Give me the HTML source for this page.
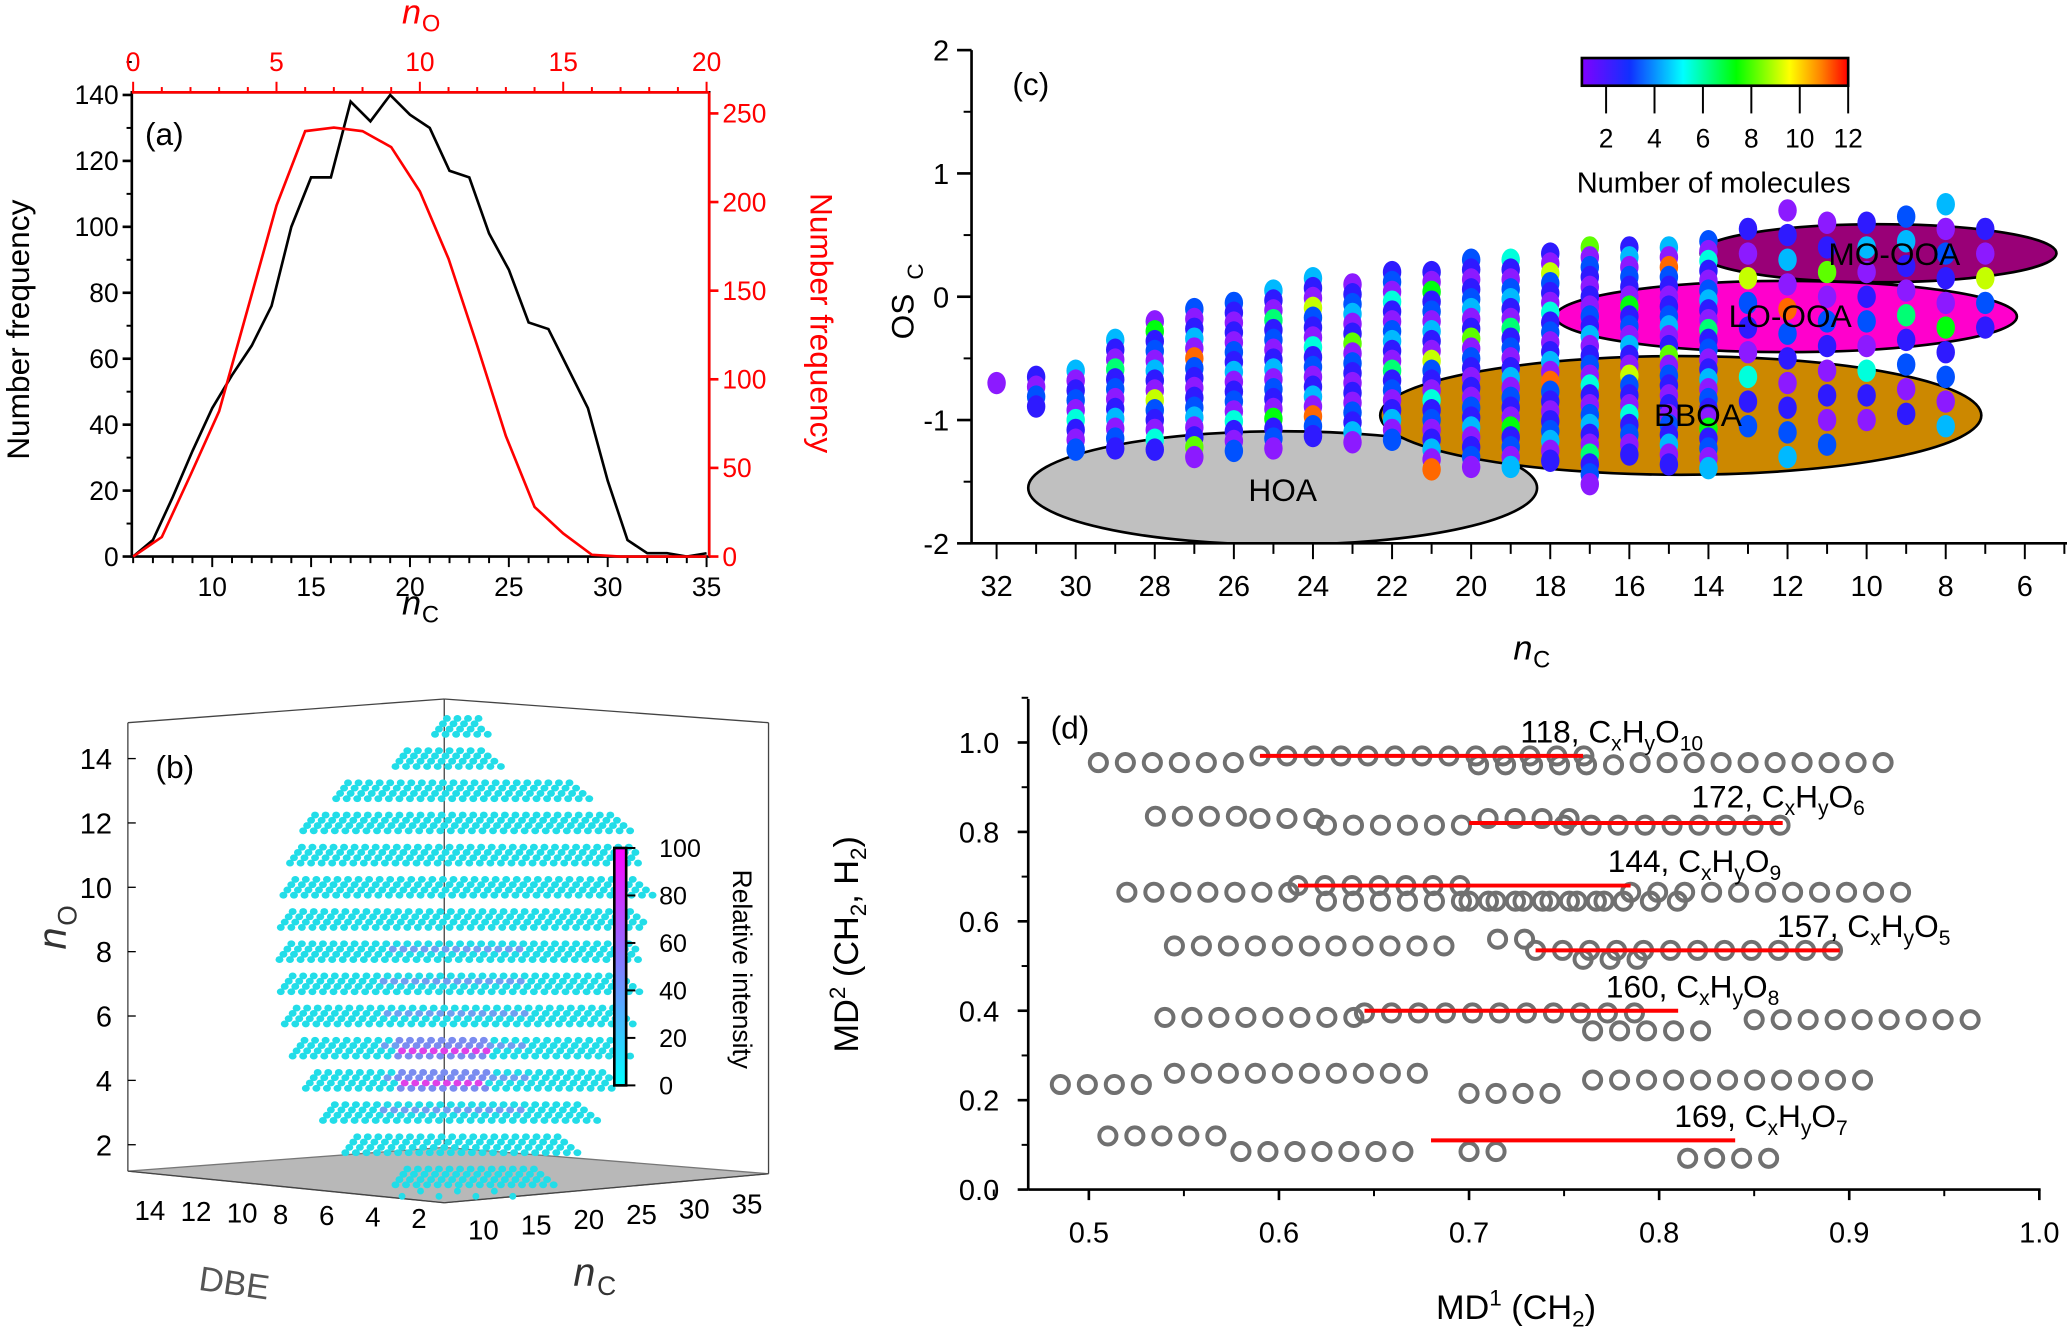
<!DOCTYPE html>
<html><head><meta charset="utf-8"><style>
html,body{margin:0;padding:0;background:#fff;}
svg{display:block;font-family:"Liberation Sans",Arial,sans-serif;}
</style></head><body>
<svg id="fig" width="2067" height="1332" viewBox="0 0 1568 1010" preserveAspectRatio="none" xmlns="http://www.w3.org/2000/svg">
<defs>
<linearGradient id="rainbow" x1="0" x2="1" y1="0" y2="0">
<stop offset="0" stop-color="#8000ff"/><stop offset="0.18" stop-color="#1030ff"/><stop offset="0.38" stop-color="#00ffff"/><stop offset="0.58" stop-color="#00ff00"/><stop offset="0.78" stop-color="#ffff00"/><stop offset="0.9" stop-color="#ff8000"/><stop offset="1" stop-color="#ff0000"/>
</linearGradient>
<linearGradient id="cyanmag" x1="0" x2="0" y1="1" y2="0">
<stop offset="0" stop-color="#00ffff"/><stop offset="1" stop-color="#ff00ff"/>
</linearGradient>
<clipPath id="clipC"><rect x="737" y="20" width="831" height="392"/></clipPath>
</defs>
<g id="pa"></g>
<g id="pb"></g>
<g id="pc"></g>
<g id="pd"></g>
</svg>
<script>
// ---- Panel (a) data ----
const aNc = [6,7,8,9,10,11,12,13,14,15,16,17,18,19,20,21,22,23,24,25,26,27,28,29,30,31,32,33,34,35];
const aNcFreq = [0,5,18,32,45,55,64,76,100,115,115,138,132,140,134,130,117,115,98,87,71,69,57,45,23,5,1,1,0,1];
const aNo = [0,1,2,3,4,5,6,7,8,9,10,11,12,13,14,15,16,17,18,19,20];
const aNoFreq = [0,11,46,82,140,198,240,242,240,231,206,168,119,68,28,13,1,0,0,0,0];
const aLeftTicks = [0,20,40,60,80,100,120,140];
const aRightTicks = [0,50,100,150,200,250];
const aBottomTicks = [10,15,20,25,30,35];
const aTopTicks = [0,5,10,15,20];
// ---- Panel (b) data ----
const bNoLevels = [1,2,3,4,5,6,7,8,9,10,11,12,13,14,15];
const bRowMin = [300,262,245,232,222,216,213,212,213,215,220,230,255,300,330];
const bRowMax = [420,440,455,470,480,485,488,490,492,495,490,480,450,380,375];
const bLeftTicks = [2,4,6,8,10,12,14];
const bCbTicks = [0,20,40,60,80,100];
const bDbeTicks = [14,12,10,8,6,4,2];
const bNcTicks = [10,15,20,25,30,35];
// ---- Panel (c) data ----
const cNc = [32,31,30,29,28,27,26,25,24,23,22,21,20,19,18,17,16,15,14,13,12,11,10,9,8,7];
const cOsMax = [-0.7,-0.65,-0.6,-0.35,-0.2,-0.1,-0.05,0.05,0.15,0.1,0.2,0.2,0.3,0.3,0.35,0.4,0.4,0.4,0.45,0.55,0.7,0.6,0.6,0.65,0.75,0.55];
const cOsMin = [-0.7,-0.9,-1.3,-1.3,-1.3,-1.3,-1.3,-1.3,-1.2,-1.2,-1.2,-1.4,-1.4,-1.45,-1.4,-1.55,-1.3,-1.4,-1.4,-1.1,-1.35,-1.3,-1.15,-1.1,-1.1,-0.4];
const cCounts = [1,2,1,3,2,4,1,2,3,1,5,2,1,3,4,2,1,6,2,3,1,2,4,1,3,2,1,7,2,3,1,4,2,1,9,3,2,1,5,2,3,1,2,4,1,11,3,2,1,2,3,4,1,2,8,1,3,2];
const cYTicks = [-2,-1,0,1,2];
const cXTicks = [32,30,28,26,24,22,20,18,16,14,12,10,8,6];
const cCbTicks = [2,4,6,8,10,12];
// ---- Panel (d) data ----
const dSegX0 = [0.505,0.59,0.705,0.79, 0.535,0.59,0.625,0.71,0.75, 0.52,0.61,0.625,0.70,0.785, 0.545,0.63,0.715,0.735,0.76, 0.54,0.645,0.765,0.85, 0.485,0.545,0.70,0.765, 0.51,0.58,0.70,0.815];
const dSegX1 = [0.58,0.765,0.79,0.93, 0.58,0.62,0.70,0.76,0.87, 0.61,0.70,0.81,0.78,0.94, 0.62,0.70,0.73,0.895,0.80, 0.64,0.79,0.825,0.97, 0.53,0.68,0.75,0.91, 0.575,0.67,0.725,0.86];
const dSegY = [0.955,0.97,0.95,0.955, 0.835,0.83,0.815,0.83,0.815, 0.665,0.68,0.645,0.645,0.665, 0.545,0.545,0.56,0.535,0.515, 0.385,0.395,0.355,0.38, 0.235,0.26,0.215,0.245, 0.12,0.085,0.085,0.07];
const dLineX0 = [0.59,0.70,0.61,0.735,0.645,0.68];
const dLineX1 = [0.76,0.865,0.785,0.895,0.81,0.84];
const dLineY = [0.97,0.82,0.68,0.535,0.40,0.11];
const dLabNum = ["118","172","144","157","160","169"];
const dLabO = ["10","6","9","5","8","7"];
const dLabX = [0.727,0.817,0.773,0.862,0.772,0.808];
const dLabY = [1.0,0.855,0.71,0.565,0.43,0.14];
const dYTicks = [0.0,0.2,0.4,0.6,0.8,1.0];
const dXTicks = [0.5,0.6,0.7,0.8,0.9,1.0];

const NS="http://www.w3.org/2000/svg";
function mk(parent,tag,attrs,text){const e=document.createElementNS(NS,tag);for(const k in attrs)e.setAttribute(k,attrs[k]);if(text!==undefined)e.textContent=text;parent.appendChild(e);return e;}

// ================= Panel A =================
(function(){
const g=document.getElementById('pa');
const L=100,R=538,T=70,B=422;
const xA=v=>101+(v-6)*15, yA=v=>422-v*2.5, xT=v=>101+v*21.75, yR=v=>422-v*1.344;
let e;
e=mk(g,'rect',{x:L,y:T,width:R-L,height:B-T,fill:'none',stroke:'#000','stroke-width':2});


e=mk(g,'line',{x1:R,y1:T,x2:R,y2:B,stroke:'#f00','stroke-width':2});


e=mk(g,'line',{x1:L,y1:T,x2:R,y2:T,stroke:'#f00','stroke-width':2});


aLeftTicks.forEach(v=>{mk(g,'line',{x1:L-7,y1:yA(v),x2:L,y2:yA(v),stroke:'#000','stroke-width':2});
 e=mk(g,'text',{x:L-10,y:yA(v)+7,'font-size':20,'text-anchor':'end'},v);
 
 
 mk(g,'line',{x1:L-4,y1:yA(v+10),x2:L,y2:yA(v+10),stroke:'#000','stroke-width':1.5});});
aRightTicks.forEach(v=>{mk(g,'line',{x1:R,y1:yR(v),x2:R+7,y2:yR(v),stroke:'#f00','stroke-width':2});
 e=mk(g,'text',{x:R+10,y:yR(v)+7,'font-size':20,fill:'#f00'},v);
 
 });
for(let v=6;v<=35;v++){mk(g,'line',{x1:xA(v),y1:B,x2:xA(v),y2:B+(v%5==0?8:5),stroke:'#000','stroke-width':1.5});}
aBottomTicks.forEach(v=>{e=mk(g,'text',{x:xA(v),y:B+30,'font-size':20,'text-anchor':'middle'},v);
 
 });
for(let v=0;v<=20;v++){mk(g,'line',{x1:xT(v),y1:T,x2:xT(v),y2:T-(v%5==0?8:4),stroke:'#f00','stroke-width':1.5});}
aTopTicks.forEach(v=>{e=mk(g,'text',{x:xT(v),y:T-16,'font-size':20,'text-anchor':'middle',fill:'#f00'},v);
 
 });
e=mk(g,'polyline',{points:aNc.map((v,i)=>xA(v)+','+yA(aNcFreq[i])).join(' '),fill:'none',stroke:'#000','stroke-width':2});


e=mk(g,'polyline',{points:aNo.map((v,i)=>xT(v)+','+yR(aNoFreq[i])).join(' '),fill:'none',stroke:'#f00','stroke-width':2});


e=mk(g,'text',{x:110,y:110,'font-size':24},'(a)');


e=mk(g,'text',{x:22,y:250,'font-size':24,'text-anchor':'middle',transform:'rotate(-90 22 250)'},'Number frequency');


e=mk(g,'text',{x:615,y:245,'font-size':24,'text-anchor':'middle',fill:'#f00',transform:'rotate(90 615 245)'},'Number frequency');


e=mk(g,'text',{x:305,y:466,'font-size':26,'font-style':'italic'},'n');


mk(g,'text',{x:320,y:472,'font-size':18},'C');
e=mk(g,'text',{x:305,y:18,'font-size':26,'font-style':'italic',fill:'#f00'},'n');


mk(g,'text',{x:320,y:24,'font-size':18,fill:'#f00'},'O');
})();

// ================= Panel B =================
(function(){
const g=document.getElementById('pb');
let e;
const yB=v=>868-(v-2)*24.4;
e=mk(g,'polygon',{points:'97,888 337,870 583,890 337,912',fill:'#b8b8b8',stroke:'#777','stroke-width':1});


[[97,548,97,888],[97,548,337,530],[337,530,583,548],[583,548,583,890],[337,530,337,870],[97,888,337,912],[337,912,583,890]].forEach(l=>mk(g,'line',{x1:l[0],y1:l[1],x2:l[2],y2:l[3],stroke:'#444','stroke-width':1}));
bLeftTicks.forEach(v=>{mk(g,'line',{x1:97,y1:yB(v),x2:103,y2:yB(v),stroke:'#000'});
 e=mk(g,'text',{x:85,y:yB(v)+8,'font-size':22,'text-anchor':'end'},v);
 
 });
bNoLevels.forEach((v,i)=>{const y=yB(v);
 for(let s=0;s<4;s++){const yy=y-s*4+6, dx=s*3;
  for(let x=bRowMin[i]+dx;x<=bRowMax[i]-s*4;x+=8){
   let c='#22dde8';
   if((v===4||v===5)&&x>300&&x<370) c=(s===1?'#e040e8':'#7a8cf0');
   else if((v>=3&&v<=8)&&x>290&&x<400&&s===2) c='#6fa0f0';
   e=mk(g,'ellipse',{cx:x,cy:yy,rx:3,ry:2.6,fill:c});
   
   
  }}});
for(let x=305;x<=400;x+=14){e=mk(g,'circle',{cx:x,cy:900+((x/14)%2)*4,r:2.6,fill:'#22dde8'});
 
 }
e=mk(g,'rect',{x:466,y:643,width:9,height:180,fill:'url(#cyanmag)',stroke:'#000','stroke-width':2});


bCbTicks.forEach(v=>{const y=823-v*1.8;mk(g,'line',{x1:475,y1:y,x2:482,y2:y,stroke:'#000','stroke-width':1.5});
 e=mk(g,'text',{x:500,y:y+7,'font-size':19},v);
 
 });
e=mk(g,'text',{x:556,y:735,'font-size':20,'text-anchor':'middle',transform:'rotate(90 556 735)'},'Relative intensity');


bDbeTicks.forEach((v,i)=>{e=mk(g,'text',{x:102+i*35,y:925+i*1,'font-size':21},v);
 
 });
bNcTicks.forEach((v,i)=>{e=mk(g,'text',{x:355+i*40,y:940-i*4,'font-size':21},v);
 
 });
e=mk(g,'text',{x:150,y:978,'font-size':26,fill:'#555',transform:'rotate(8 150 978)'},'DBE');


e=mk(g,'text',{x:435,y:975,'font-size':30,'font-style':'italic',fill:'#333'},'n');


mk(g,'text',{x:453,y:982,'font-size':20,fill:'#333'},'C');
e=mk(g,'text',{x:50,y:720,'font-size':30,'font-style':'italic',fill:'#333',transform:'rotate(-90 50 720)'},'n');


mk(g,'text',{x:58,y:702,'font-size':20,fill:'#333',transform:'rotate(-90 58 702)'},'O');
e=mk(g,'text',{x:118,y:590,'font-size':24},'(b)');


})();

// ================= Panel C =================
(function(){
const g=document.getElementById('pc');
let e;
const xC=v=>756+(32-v)*30, yC=v=>225-v*93.5;
const col=v=>'hsl('+Math.max(0,270*(1-(v-1)/11))+',100%,'+(v<=2?55:50)+'%)';
const ells=[['hoa-ellipse',973,370,193,43,'#c0c0c0'],['bboa-ellipse',1275,315,228,45,'#cc8800'],['lo-ooa-ellipse',1355,240,175,27,'#ff00cc'],['mo-ooa-ellipse',1425,192,135,22,'#990077']];
const cg=mk(g,'g',{'clip-path':'url(#clipC)'});
ells.forEach(a=>{e=mk(cg,'ellipse',{cx:a[1],cy:a[2],rx:a[3],ry:a[4],fill:a[5],stroke:'#000','stroke-width':2});
 
 });
let k=0;
cNc.forEach((n,i)=>{
 const sparse = n<=13;
 const step = sparse?0.2:0.08;
 for(let o=cOsMax[i];o>=cOsMin[i]-1e-6;o-=step){
  const c=cCounts[k%cCounts.length];k++;
  e=mk(cg,'ellipse',{cx:xC(n),cy:yC(o),rx:7,ry:8.5,fill:col(c)});
  
  
 }});
[['HOA',973,380],['BBOA',1288,323],['LO-OOA',1358,248],['MO-OOA',1437,201]].forEach(a=>{
 e=mk(g,'text',{x:a[1],y:a[2],'font-size':24,'text-anchor':'middle'},a[0]);
 
 });
mk(g,'line',{x1:737,y1:38,x2:737,y2:412,stroke:'#000','stroke-width':2});
mk(g,'line',{x1:737,y1:412,x2:1568,y2:412,stroke:'#000','stroke-width':2});
cYTicks.forEach(v=>{mk(g,'line',{x1:726,y1:yC(v),x2:737,y2:yC(v),stroke:'#000','stroke-width':2});
 mk(g,'line',{x1:731,y1:yC(v+0.5),x2:737,y2:yC(v+0.5),stroke:'#000','stroke-width':1.5});
 e=mk(g,'text',{x:720,y:yC(v)+8,'font-size':22,'text-anchor':'end'},v<0?'-'+(-v):v);
 
 });
for(let n=33;n>=5;n--){const x=xC(n);if(x<737||x>1568)continue;mk(g,'line',{x1:x,y1:412,x2:x,y2:n%2==0?424:420,stroke:'#000','stroke-width':1.5});}
cXTicks.forEach(v=>{e=mk(g,'text',{x:xC(v),y:452,'font-size':22,'text-anchor':'middle'},v);
 
 });
e=mk(g,'text',{x:1148,y:500,'font-size':26,'font-style':'italic'},'n');


mk(g,'text',{x:1163,y:506,'font-size':18},'C');
e=mk(g,'text',{x:693,y:240,'font-size':24,'text-anchor':'middle',transform:'rotate(-90 693 240)'},'OS');


mk(g,'text',{x:700,y:212,'font-size':17,transform:'rotate(-90 700 212)'},'C');
e=mk(g,'text',{x:768,y:72,'font-size':24},'(c)');


e=mk(g,'rect',{x:1200,y:44,width:202,height:21,fill:'url(#rainbow)',stroke:'#000','stroke-width':2});


const xcb=v=>1200+(v-1)*(202/11);
cCbTicks.forEach(v=>{mk(g,'line',{x1:xcb(v),y1:65,x2:xcb(v),y2:86,stroke:'#000','stroke-width':1.5});
 e=mk(g,'text',{x:xcb(v),y:112,'font-size':20,'text-anchor':'middle'},v);
 
 });
e=mk(g,'text',{x:1300,y:146,'font-size':22,'text-anchor':'middle'},'Number of molecules');


})();

// ================= Panel D =================
(function(){
const g=document.getElementById('pd');
let e;
const L=780,R=1548,T=530,B=902;
const xD=v=>826+(v-0.5)*1442, yD=v=>902-v*339;
e=mk(g,'line',{x1:L,y1:T,x2:L,y2:B,stroke:'#000','stroke-width':2});


e=mk(g,'line',{x1:L,y1:B,x2:R,y2:B,stroke:'#000','stroke-width':2});


dYTicks.forEach(v=>{mk(g,'line',{x1:L-8,y1:yD(v),x2:L,y2:yD(v),stroke:'#000','stroke-width':2});
 mk(g,'line',{x1:L-5,y1:yD(v+0.1),x2:L,y2:yD(v+0.1),stroke:'#000','stroke-width':1.5});
 e=mk(g,'text',{x:L-22,y:yD(v)+8,'font-size':22,'text-anchor':'end'},v.toFixed(1));
 
 });
dXTicks.forEach(v=>{mk(g,'line',{x1:xD(v),y1:B,x2:xD(v),y2:B+8,stroke:'#000','stroke-width':2});
 mk(g,'line',{x1:xD(v-0.05),y1:B,x2:xD(v-0.05),y2:B+5,stroke:'#000','stroke-width':1.5});
 e=mk(g,'text',{x:xD(v),y:B+40,'font-size':22,'text-anchor':'middle'},v.toFixed(1));
 
 });
dSegX0.forEach((x0,i)=>{for(let x=x0;x<=dSegX1[i]+1e-6;x+=0.0142){
 e=mk(g,'circle',{cx:xD(x),cy:yD(dSegY[i]),r:6.5,fill:'none',stroke:'#707070','stroke-width':3});
 
 }});
dLineX0.forEach((x0,i)=>{e=mk(g,'line',{x1:xD(x0),y1:yD(dLineY[i]),x2:xD(dLineX1[i]),y2:yD(dLineY[i]),stroke:'#f00','stroke-width':3});
 
 
 const t=mk(g,'text',{x:xD(dLabX[i]),y:yD(dLabY[i]),'font-size':24});
 
 
 t.innerHTML=dLabNum[i]+', C<tspan font-size="16" dy="6">x</tspan><tspan dy="-6">H</tspan><tspan font-size="16" dy="6">y</tspan><tspan dy="-6">O</tspan><tspan font-size="16" dy="6">'+dLabO[i]+'</tspan>';});
e=mk(g,'text',{x:797,y:560,'font-size':24},'(d)');


e=mk(g,'text',{x:651,y:716,'font-size':26,'text-anchor':'middle',transform:'rotate(-90 651 716)'});


e.innerHTML='MD<tspan font-size="17" dy="-10">2</tspan><tspan dy="10"> (CH</tspan><tspan font-size="17" dy="6">2</tspan><tspan dy="-6">, H</tspan><tspan font-size="17" dy="6">2</tspan><tspan dy="-6">)</tspan>';
e=mk(g,'text',{x:1150,y:1000,'font-size':26,'text-anchor':'middle'});


e.innerHTML='MD<tspan font-size="17" dy="-10">1</tspan><tspan dy="10"> (CH</tspan><tspan font-size="17" dy="6">2</tspan><tspan dy="-6">)</tspan>';
})();
</script>
</body></html>
